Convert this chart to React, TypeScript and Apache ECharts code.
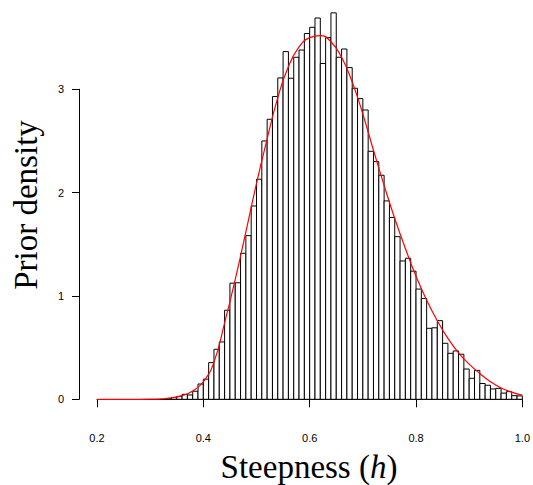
import React, { useEffect, useRef } from "react";
import * as echarts from "echarts";

const binLeft = [
  0.33, 0.34, 0.35, 0.36, 0.37, 0.38, 0.39, 0.40, 0.41, 0.42, 0.43, 0.44, 0.45, 0.46, 0.47, 0.48, 0.49,
  0.50, 0.51, 0.52, 0.53, 0.54, 0.55, 0.56, 0.57, 0.58, 0.59, 0.60, 0.61, 0.62, 0.63, 0.64, 0.65, 0.66,
  0.67, 0.68, 0.69, 0.70, 0.71, 0.72, 0.73, 0.74, 0.75, 0.76, 0.77, 0.78, 0.79, 0.80, 0.81, 0.82, 0.83,
  0.84, 0.85, 0.86, 0.87, 0.88, 0.89, 0.90, 0.91, 0.92, 0.93, 0.94, 0.95, 0.96, 0.97, 0.98, 0.99,
];
const binWidth = 0.01;
const binDensity = [
  0.007, 0.016, 0.028, 0.048, 0.042, 0.078, 0.148, 0.195, 0.355, 0.484, 0.555, 0.862, 1.124, 1.128, 1.413, 1.584, 1.871,
  2.13, 2.5, 2.71, 2.93, 3.11, 3.365, 3.107, 3.31, 3.38, 3.54, 3.6, 3.69, 3.25, 3.5, 3.74, 3.31, 3.39,
  3.21, 3.01, 2.91, 2.8, 2.4, 2.3, 2.168, 1.92, 1.76, 1.574, 1.339, 1.365, 1.24, 1.067, 0.976, 0.687, 0.692,
  0.761, 0.542, 0.445, 0.468, 0.436, 0.293, 0.203, 0.28, 0.153, 0.136, 0.1, 0.106, 0.06, 0.074, 0.035, 0.033,
];

const curveX = [
  0.2, 0.24, 0.28, 0.3, 0.32, 0.34, 0.36, 0.38, 0.4, 0.42, 0.44, 0.46, 0.48, 0.5, 0.52, 0.54, 0.56, 0.58, 0.6,
  0.62, 0.64, 0.66, 0.68, 0.7, 0.72, 0.74, 0.76, 0.78, 0.8, 0.82, 0.84, 0.86, 0.88, 0.9, 0.92, 0.94,
  0.96, 0.98, 1.0,
];
const curveY = [
  0, 0, 0, 0.001, 0.004, 0.014, 0.036, 0.08, 0.17, 0.36, 0.74, 1.16, 1.62, 2.09, 2.52, 2.92, 3.22, 3.41, 3.5,
  3.52, 3.46, 3.31, 3.07, 2.76, 2.41, 2.07, 1.75, 1.46, 1.19, 0.96, 0.76, 0.59, 0.45, 0.34, 0.25, 0.17,
  0.11, 0.07, 0.04,
];

const xTicks = [0.2, 0.4, 0.6, 0.8, 1.0];
const yTicks = [0, 1, 2, 3];

export default function App() {
  const ref = useRef<HTMLDivElement>(null);
  useEffect(() => {
    if (!ref.current) return;
    const chart = echarts.init(ref.current, null, { renderer: "svg" });
    const left = 97;
    const right = 533 - 525;
    const bottom = 485 - 399.3;
    const pxPerUnit = 103.33;
    const yMax = 3.8;
    const top = 399.3 - yMax * pxPerUnit;
    const histData = binLeft.map((b, i) => [b, b + binWidth, binDensity[i]]);
    const lineData = curveX.map((x, i) => [x, curveY[i]]);
    const labelFont = { fontFamily: "Liberation Sans, Arial, sans-serif", fontSize: 11, color: "#000" };
    const serif = "Liberation Serif, DejaVu Serif, serif";
    chart.setOption({
      animation: false,
      backgroundColor: "#fff",
      grid: [
        { left, right, top, bottom },
        { left, right, top: 399.3 - 3 * pxPerUnit, bottom },
      ],
      xAxis: [
        {
          type: "value",
          gridIndex: 0,
          min: 0.2,
          max: 1.0,
          interval: 0.2,
          offset: 15,
          splitLine: { show: false },
          axisLine: { show: true, lineStyle: { color: "#000", width: 1 } },
          axisTick: { show: true, inside: false, length: 8, lineStyle: { color: "#000" } },
          axisLabel: {
            ...labelFont,
            margin: 18,
            showMinLabel: true,
            showMaxLabel: true,
            formatter: (v: number) => {
              const m = xTicks.find((t) => Math.abs(t - v) < 1e-6);
              return m !== undefined ? m.toFixed(1) : "";
            },
          },
        },
        { type: "value", gridIndex: 1, min: 0.2, max: 1.0, show: false },
      ],
      yAxis: [
        { type: "value", gridIndex: 0, min: 0, max: yMax, show: false },
        {
          type: "value",
          gridIndex: 1,
          min: 0,
          max: 3,
          interval: 1,
          offset: 18,
          splitLine: { show: false },
          axisLine: { show: true, lineStyle: { color: "#000", width: 1 } },
          axisTick: { show: true, inside: false, length: 7, lineStyle: { color: "#000" } },
          axisLabel: {
            ...labelFont,
            margin: 15,
            formatter: (v: number) => (yTicks.includes(v) ? String(v) : ""),
          },
        },
      ],
      series: [
        {
          type: "custom",
          xAxisIndex: 0,
          yAxisIndex: 0,
          data: histData,
          encode: { x: [0, 1], y: 2 },
          renderItem: (params: any, api: any) => {
            const p0 = api.coord([api.value(0), 0]);
            const p1 = api.coord([api.value(1), api.value(2)]);
            return {
              type: "rect",
              shape: { x: p0[0], y: p1[1], width: p1[0] - p0[0], height: p0[1] - p1[1] },
              style: { fill: "#fff", stroke: "#000", lineWidth: 1 },
            };
          },
          z: 2,
        },
        {
          type: "line",
          xAxisIndex: 0,
          yAxisIndex: 0,
          data: lineData,
          smooth: 0.5,
          showSymbol: false,
          symbol: "none",
          lineStyle: { color: "#ff0000", width: 1.2 },
          z: 5,
        },
      ],
      graphic: [
        {
          type: "text",
          x: 309,
          y: 467,
          style: {
            text: "Steepness ({i|h})",
            fontFamily: serif,
            fontSize: 33,
            fill: "#000",
            align: "center",
            verticalAlign: "middle",
            rich: {
              i: { fontFamily: serif, fontSize: 33, fontStyle: "italic", fill: "#000" },
            },
          },
        },
        {
          type: "text",
          x: 26,
          y: 205,
          rotation: Math.PI / 2,
          style: {
            text: "Prior density",
            fontFamily: serif,
            fontSize: 33,
            fill: "#000",
            align: "center",
            verticalAlign: "middle",
          },
        },
      ],
    });
    return () => chart.dispose();
  }, []);
  return (
    <div
      ref={ref}
      style={{ position: "fixed", left: 0, top: 0, width: 533, height: 485, background: "#fff" }}
    />
  );
}
